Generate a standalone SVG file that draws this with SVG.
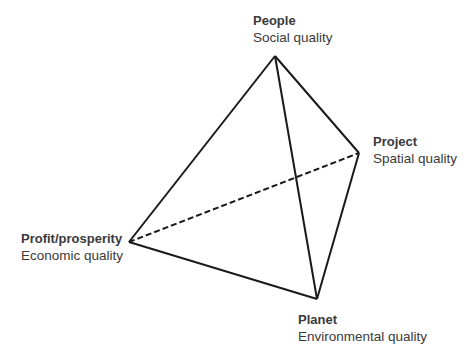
<svg xmlns="http://www.w3.org/2000/svg" width="470" height="345" viewBox="0 0 470 345">
<style>
.t{font-family:"Liberation Sans",Arial,sans-serif;font-size:13.5px;fill:#3a3a3a}
.b{font-weight:bold;font-size:13px}
.e{stroke:#1a1a1a;stroke-width:2;fill:none;stroke-linejoin:round}
.d{stroke-dasharray:6,3}
</style>
<rect width="470" height="345" fill="#fff"/>
<g id="connectors">
<line class="e" x1="275" y1="56" x2="129" y2="242"/>
<line class="e" x1="275" y1="56" x2="359" y2="153"/>
<line class="e" x1="275" y1="56" x2="317" y2="299"/>
<line class="e" x1="129" y1="242" x2="317" y2="299"/>
<line class="e" x1="359" y1="153" x2="317" y2="299"/>
<line class="e d" x1="129" y1="242" x2="359" y2="153"/>
</g>
<g id="people"><text class="t b" x="253" y="25">People</text><text class="t" x="253" y="42">Social quality</text></g>
<g id="project"><text class="t b" x="373" y="146">Project</text><text class="t" x="373" y="163">Spatial quality</text></g>
<g id="profit"><text class="t b" x="21" y="243">Profit/prosperity</text><text class="t" x="21" y="260">Economic quality</text></g>
<g id="planet"><text class="t b" x="298" y="324">Planet</text><text class="t" x="298" y="341">Environmental quality</text></g>
</svg>
